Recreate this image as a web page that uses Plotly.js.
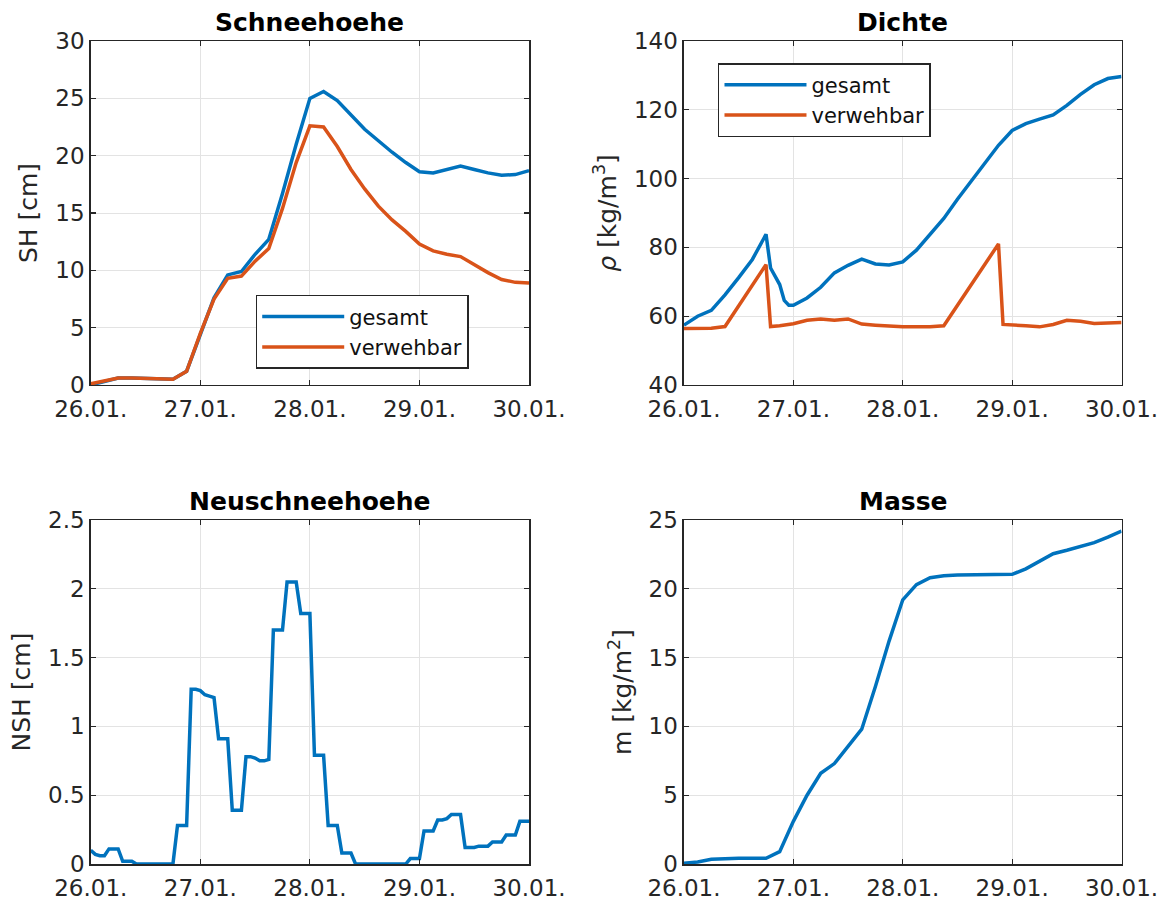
<!DOCTYPE html>
<html>
<head>
<meta charset="utf-8">
<script src="https://cdn.plot.ly/plotly-3.0.1.min.js"></script>
<style>html,body{margin:0;padding:0;background:#fff;}#chart{width:1165px;height:902px;}</style>
</head>
<body>
<div id="chart"></div>
<script>
// time axes in hours since 26.01. 00:00
var tickHours = [0, 24, 48, 72, 96];
var tickLabels = ['26.01.', '27.01.', '28.01.', '29.01.', '30.01.'];

// Schneehoehe / Masse (3-hourly)
var t3 = [0,3,6,9,12,15,18,21,24,27,30,33,36,39,42,45,48,51,54,57,60,63,66,69,72,75,78,81,84,87,90,93,96];
var shGesamt = [0.0,0.3,0.6,0.6,0.55,0.5,0.5,1.2,4.5,7.6,9.6,9.9,11.4,12.7,16.7,21.0,25.0,25.6,24.8,23.5,22.3,21.3,20.3,19.4,18.6,18.5,18.8,19.1,18.8,18.5,18.3,18.35,18.7];
var shVerweh = [0.1,0.35,0.6,0.6,0.55,0.5,0.5,1.2,4.5,7.5,9.3,9.5,10.8,11.9,15.4,19.4,22.6,22.5,20.8,18.8,17.1,15.6,14.4,13.4,12.3,11.7,11.4,11.2,10.5,9.8,9.2,8.95,8.9];
var masse = [0.05,0.15,0.35,0.4,0.42,0.42,0.42,0.9,3.1,5.0,6.6,7.3,8.6,9.8,12.9,16.2,19.2,20.3,20.8,20.95,21.0,21.0,21.0,21.0,21.05,21.45,22.0,22.55,22.8,23.05,23.35,23.75,24.2];

// Dichte
var tDichteGes = [0,3,6,9,12,15,18,19,21,22,23,24,27,30,33,36,39,42,45,48,51,54,57,60,63,66,69,72,75,78,81,84,87,90,93,96];
var dichteGes = [57.4,60,61.7,66.2,71.2,76.5,83.8,74,69.2,64.6,63.2,63.2,65.3,68.4,72.6,74.8,76.6,75.2,74.9,75.8,79.2,83.8,88.4,94,99.3,104.7,109.7,114,116,117.3,118.5,121.3,124.5,127.3,129.1,129.7];
var tDichteVer = [0,3,6,9,12,15,18,19,21,24,27,30,33,36,39,42,45,48,51,54,57,60,63,66,69,70,72,75,78,81,84,87,90,93,96];
var dichteVer = [56.4,56.4,56.5,57.0,63,69,75,57,57.2,57.8,58.8,59.2,58.8,59.2,57.7,57.4,57.1,56.9,56.9,56.9,57.2,63.1,69,75,81,57.6,57.5,57.2,56.9,57.6,58.8,58.5,57.9,58,58.2];

// Neuschneehoehe (hourly)
var t1 = [0,1,2,3,4,5,6,7,8,9,10,11,12,13,14,15,16,17,18,19,20,21,22,23,24,25,26,27,28,29,30,31,32,33,34,35,36,37,38,39,40,41,42,43,44,45,46,47,48,49,50,51,52,53,54,55,56,57,58,59,60,61,62,63,64,65,66,67,68,69,70,71,72,73,74,75,76,77,78,79,80,81,82,83,84,85,86,87,88,89,90,91,92,93,94,95,96];
var nsh = [0.10,0.07,0.06,0.06,0.11,0.11,0.11,0.02,0.02,0.02,0,0,0,0,0,0,0,0,0,0.28,0.28,0.28,1.27,1.27,1.26,1.23,1.22,1.21,0.91,0.91,0.91,0.39,0.39,0.39,0.78,0.78,0.77,0.75,0.75,0.76,1.70,1.70,1.70,2.05,2.05,2.05,1.82,1.82,1.82,0.79,0.79,0.79,0.28,0.28,0.28,0.08,0.08,0.08,0,0,0,0,0,0,0,0,0,0,0,0,0.04,0.04,0.04,0.24,0.24,0.24,0.32,0.32,0.33,0.36,0.36,0.36,0.12,0.12,0.12,0.13,0.13,0.13,0.16,0.16,0.16,0.21,0.21,0.21,0.31,0.31,0.31];

var BLUE = '#0072BD', ORANGE = '#D95319';
var LW = 3.5;
var FONT = 'DejaVu Sans, Liberation Sans, sans-serif';
var AX = '#262626';

var traces = [
  {x: t3, y: shGesamt, name: 'gesamt', type: 'scatter', mode: 'lines', line: {color: BLUE, width: LW}, xaxis: 'x', yaxis: 'y', legend: 'legend'},
  {x: t3, y: shVerweh, name: 'verwehbar', type: 'scatter', mode: 'lines', line: {color: ORANGE, width: LW}, xaxis: 'x', yaxis: 'y', legend: 'legend'},
  {x: tDichteGes, y: dichteGes, name: 'gesamt', type: 'scatter', mode: 'lines', line: {color: BLUE, width: LW}, xaxis: 'x2', yaxis: 'y2', legend: 'legend2'},
  {x: tDichteVer, y: dichteVer, name: 'verwehbar', type: 'scatter', mode: 'lines', line: {color: ORANGE, width: LW}, xaxis: 'x2', yaxis: 'y2', legend: 'legend2'},
  {x: t1, y: nsh, name: 'NSH', type: 'scatter', mode: 'lines', line: {color: BLUE, width: LW}, xaxis: 'x3', yaxis: 'y3', showlegend: false},
  {x: t3, y: masse, name: 'm', type: 'scatter', mode: 'lines', line: {color: BLUE, width: LW}, xaxis: 'x4', yaxis: 'y4', showlegend: false}
];

function xax(domain, anchor) {
  return {
    domain: domain, anchor: anchor, range: [0, 96], autorange: false,
    tickmode: 'array', tickvals: tickHours, ticktext: tickLabels,
    showgrid: true, gridcolor: '#e3e3e3', gridwidth: 1, zeroline: false,
    showline: true, linecolor: AX, linewidth: 1.5, mirror: 'ticks',
    ticks: 'inside', ticklen: 5, tickwidth: 1.2, tickcolor: AX, ticklabelstandoff: 3,
    tickfont: {family: FONT, size: 23, color: AX}, automargin: false
  };
}
function yax(domain, anchor, range, dtick, title, standoff) {
  return {
    domain: domain, anchor: anchor, range: range, autorange: false, dtick: dtick, tick0: range[0],
    showgrid: true, gridcolor: '#e3e3e3', gridwidth: 1, zeroline: false,
    showline: true, linecolor: AX, linewidth: 1.5, mirror: 'ticks',
    ticks: 'inside', ticklen: 5, tickwidth: 1.2, tickcolor: AX,
    tickfont: {family: FONT, size: 23, color: AX}, automargin: false,
    title: {text: title, font: {family: FONT, size: 25, color: AX}, standoff: standoff}
  };
}

var xL = [0.0779, 0.4541], xR = [0.5871, 0.9627];
var yT = [0.5732, 0.9545], yB = [0.0421, 0.4235];

var layout = {
  width: 1165, height: 902,
  margin: {l: 0, r: 0, t: 0, b: 0},
  paper_bgcolor: '#fff', plot_bgcolor: '#fff',
  font: {family: FONT, color: AX},
  xaxis: xax(xL, 'y'),
  yaxis: yax(yT, 'x', [0, 30], 5, 'SH [cm]', 10),
  xaxis2: xax(xR, 'y2'),
  yaxis2: yax(yT, 'x2', [40, 140], 20, '<i>ρ</i> [kg/m<sup>3</sup>]', 10),
  xaxis3: xax(xL, 'y3'),
  yaxis3: yax(yB, 'x3', [0, 2.5], 0.5, 'NSH [cm]', 10),
  xaxis4: xax(xR, 'y4'),
  yaxis4: yax(yB, 'x4', [0, 25], 5, 'm [kg/m<sup>2</sup>]', 10),
  legend: {
    x: 0.2195, y: 0.673, xanchor: 'left', yanchor: 'top',
    bgcolor: '#fff', bordercolor: AX, borderwidth: 1.5,
    font: {family: FONT, size: 21, color: '#111'}, itemwidth: 82, tracegroupgap: 0
  },
  legend2: {
    x: 0.6163, y: 0.930, xanchor: 'left', yanchor: 'top',
    bgcolor: '#fff', bordercolor: AX, borderwidth: 1.5,
    font: {family: FONT, size: 21, color: '#111'}, itemwidth: 82, tracegroupgap: 0
  },
  showlegend: true,
  annotations: [
    {text: '<b>Schneehoehe</b>', x: 0.266, y: 0.9756, xref: 'paper', yref: 'paper', xanchor: 'center', yanchor: 'middle', showarrow: false, font: {family: FONT, size: 25, color: '#000'}},
    {text: '<b>Dichte</b>', x: 0.775, y: 0.9756, xref: 'paper', yref: 'paper', xanchor: 'center', yanchor: 'middle', showarrow: false, font: {family: FONT, size: 25, color: '#000'}},
    {text: '<b>Neuschneehoehe</b>', x: 0.266, y: 0.4435, xref: 'paper', yref: 'paper', xanchor: 'center', yanchor: 'middle', showarrow: false, font: {family: FONT, size: 25, color: '#000'}},
    {text: '<b>Masse</b>', x: 0.775, y: 0.4435, xref: 'paper', yref: 'paper', xanchor: 'center', yanchor: 'middle', showarrow: false, font: {family: FONT, size: 25, color: '#000'}}
  ]
};

Plotly.newPlot('chart', traces, layout, {displayModeBar: false, staticPlot: true});
</script>
</body>
</html>
